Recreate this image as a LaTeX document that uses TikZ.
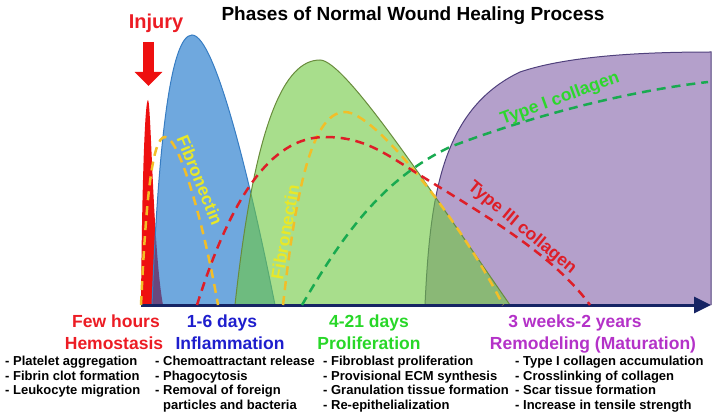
\documentclass[tikz,border=0pt]{standalone}
\usepackage{fontspec}
\setmainfont{Liberation Sans}
\usepackage{tikz}
\usetikzlibrary{arrows.meta}
\definecolor{spikered}{RGB}{238,16,16}
\definecolor{inflfill}{RGB}{15,110,200}
\definecolor{infledge}{RGB}{55,125,195}
\definecolor{prolfill}{RGB}{110,200,63}
\definecolor{proledge}{RGB}{105,140,60}
\definecolor{remfill}{RGB}{130,97,168}
\definecolor{remedge}{RGB}{80,65,125}
\definecolor{axisnavy}{RGB}{22,36,100}
\definecolor{fibrodash}{RGB}{242,190,40}
\definecolor{fibrotext}{RGB}{232,232,40}
\definecolor{col3dash}{RGB}{222,30,40}
\definecolor{col1dash}{RGB}{25,170,80}
\definecolor{col1text}{RGB}{45,215,45}
\definecolor{hemored}{RGB}{236,28,36}
\definecolor{inflblue}{RGB}{30,30,205}
\definecolor{prolgreen}{RGB}{40,215,40}
\definecolor{rempurple}{RGB}{180,50,200}

\begin{document}
\begin{tikzpicture}[x=1pt,y=-1pt,font=\bfseries]
\tikzstyle{every node}=[inner sep=0pt]
\tikzstyle{phase}=[fill opacity=.6,line width=1pt]
\tikzstyle{curve}=[line width=2.5pt,dash pattern=on 9pt off 6pt]
\tikzstyle{tag}=[font=\fontsize{17.5}{20}\bfseries\selectfont]
\tikzstyle{period}=[font=\fontsize{17.5}{20}\bfseries\selectfont,anchor=base]
\tikzstyle{facts}=[font=\fontsize{13}{14.7}\bfseries\selectfont,anchor=north west,align=left]
\useasboundingbox (0,0) rectangle (717,414);

% phase areas
\fill[spikered] (141,305) .. controls (142,180) and (145,100) .. (148,100)
   .. controls (151,100) and (153,250) .. (163,305) -- cycle;
\filldraw[phase,fill=inflfill,draw=infledge] (152,305) .. controls (158,150) and (170,35) .. (192,35)
   .. controls (215,35) and (250,180) .. (275,305);
\filldraw[phase,fill=remfill,draw=remedge] (425,305) .. controls (430,200) and (440,110) .. (520,72)
   .. controls (570,55) and (650,52) .. (711,52) -- (711,305);
\filldraw[phase,fill=prolfill,draw=proledge] (235,305) .. controls (255,120) and (285,60) .. (320,60)
   .. controls (345,60) and (430,190) .. (510,305);

% time axis
\coordinate (origin) at (141,305);
\coordinate (late)   at (711,305);
\draw[axisnavy,line width=3pt,-{Triangle[length=17pt,width=16pt]}] (origin) -- (late);

% injury
\node[font=\fontsize{20}{24}\bfseries\selectfont,text=hemored,anchor=base] (injury) at (156,29) {Injury};
\coordinate (drop)  at (148.5,42);
\coordinate (wound) at (148.5,86);
\draw[spikered,line width=11pt,-{Triangle[length=14pt,width=27pt]}] (drop) -- (wound);

% matrix components
\draw[curve,fibrodash] (141,305) .. controls (146,200) and (152,137) .. (165,137)
   .. controls (180,137) and (205,230) .. (218,305);
\draw[curve,fibrodash] (283,305) .. controls (295,200) and (310,112) .. (345,112)
   .. controls (375,112) and (460,220) .. (503,305);
\draw[curve,col3dash] (197,305) .. controls (230,200) and (270,137) .. (325,137)
   .. controls (360,137) and (380,150) .. (407,167)
   .. controls (470,207) and (550,250) .. (590,305);
\draw[curve,col1dash] (302,305) .. controls (340,240) and (380,180) .. (450,147)
   .. controls (520,120) and (620,92) .. (708,82);

\node[tag,text=fibrotext,rotate=-68]  (fibro1) at (200,180) {Fibronectin};
\node[tag,text=fibrotext,rotate=80]   (fibro2) at (285,232) {Fibronectin};
\node[tag,text=col1text,rotate=20]    (col1)   at (560,99)  {Type I collagen};
\node[tag,text=col3dash,rotate=-39.5] (col3)   at (522,228) {Type III collagen};

\node[font=\fontsize{19}{22}\bfseries\selectfont,anchor=base] (title) at (413,21) {Phases of Normal Wound Healing Process};

% phases below the axis
\node[period,text=hemored]   (hemotime) at (116,327) {Few hours};
\node[period,text=hemored]   (hemo)     at (114,349) {Hemostasis};
\node[period,text=inflblue]  (infltime) at (222,327) {1-6 days};
\node[period,text=inflblue]  (infl)     at (230,349) {Inflammation};
\node[period,text=prolgreen] (proltime) at (369,327) {4-21 days};
\node[period,text=prolgreen] (prol)     at (369,349) {Proliferation};
\node[period,text=rempurple] (remtime)  at (575,327) {3 weeks-2 years};
\node[period,text=rempurple] (rem)      at (593,349) {Remodeling (Maturation)};

\node[facts] (hemofacts) at (5,355.7) {- Platelet aggregation\\- Fibrin clot formation\\- Leukocyte migration};
\node[facts] (inflfacts) at (155,355.7) {- Chemoattractant release\\- Phagocytosis\\- Removal of foreign\\\phantom{- }particles and bacteria};
\node[facts] (prolfacts) at (323,355.7) {- Fibroblast proliferation\\- Provisional ECM synthesis\\- Granulation tissue formation\\- Re-epithelialization};
\node[facts] (remfacts)  at (515,355.7) {- Type I collagen accumulation\\- Crosslinking of collagen\\- Scar tissue formation\\- Increase in tensile strength};
\end{tikzpicture}
\end{document}
